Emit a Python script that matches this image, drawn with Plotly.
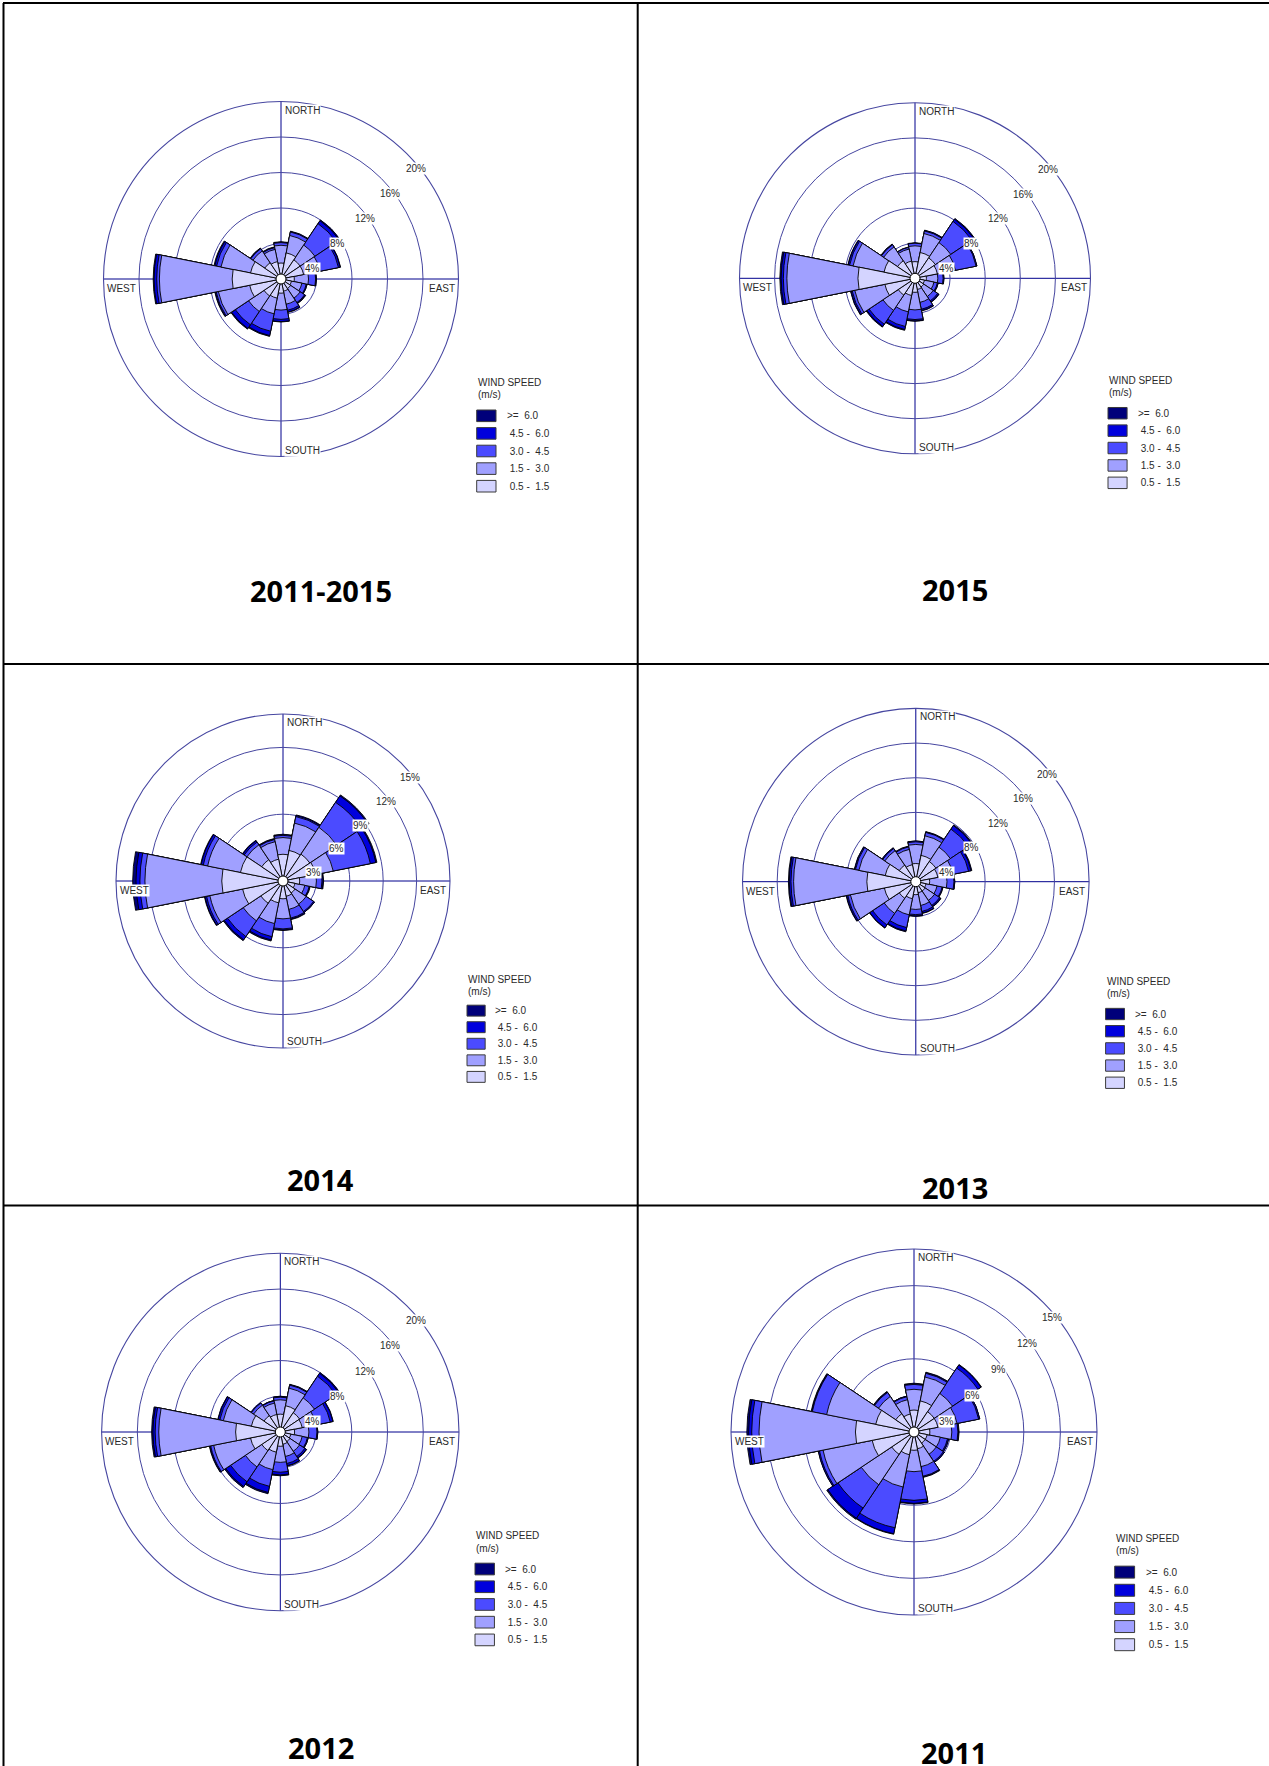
import plotly.graph_objects as go

W, H = 1269, 1766

# ---------------------------------------------------------------- data
DIRECTIONS = ["N", "NNE", "NE", "ENE", "E", "ESE", "SE", "SSE",
              "S", "SSW", "SW", "WSW", "W", "WNW", "NW", "NNW"]
BEARINGS = [0, 22.5, 45, 67.5, 90, 112.5, 135, 157.5,
            180, 202.5, 225, 247.5, 270, 292.5, 315, 337.5]

# speed classes, slowest first
SPEED_CLASSES = ["0.5 - 1.5", "1.5 - 3.0", "3.0 - 4.5", "4.5 - 6.0", ">= 6.0"]
LEGEND_LABELS = [">=  6.0", " 4.5 -  6.0", " 3.0 -  4.5", " 1.5 -  3.0", " 0.5 -  1.5"]
CLASS_COLORS = ["#D4D4FF", "#A0A0FF", "#4B4BFF", "#0000DD", "#00007A"]

# cumulative frequency (%) per direction: wind up to 1.5, 3.0, 4.5, 6.0 m/s, all
CUM_2011_2015 = [
    [1.8, 3.8, 4.1, 4.15, 4.2], [3.0, 5.0, 5.4, 5.45, 5.5], [2.6, 4.6, 7.5, 7.9, 8.0],
    [2.6, 4.5, 6.6, 6.8, 6.85], [1.5, 3.1, 3.9, 3.95, 4.0], [1.2, 2.4, 2.9, 3.0, 3.0],
    [1.3, 2.6, 3.2, 3.3, 3.35], [1.4, 2.9, 3.6, 3.8, 3.85], [1.6, 3.5, 4.55, 4.8, 4.85],
    [2.2, 4.0, 6.0, 6.5, 6.6], [2.3, 4.4, 6.2, 6.7, 6.8], [3.6, 7.2, 7.45, 7.55, 7.6],
    [5.5, 13.7, 14.0, 14.3, 14.4], [3.5, 6.9, 7.4, 7.6, 7.7], [2.2, 3.8, 4.1, 4.15, 4.2],
    [2.0, 3.4, 3.6, 3.65, 3.7],
]
CUM_2015 = [
    [1.9, 3.7, 4.0, 4.0, 4.05], [3.0, 5.2, 5.5, 5.55, 5.6], [2.8, 4.9, 7.8, 8.1, 8.2],
    [2.6, 4.7, 7.1, 7.2, 7.2], [1.3, 2.6, 3.2, 3.3, 3.3], [1.1, 2.2, 2.6, 2.7, 2.7],
    [1.2, 2.5, 3.1, 3.25, 3.3], [1.3, 2.8, 3.6, 3.75, 3.8], [1.6, 3.6, 4.7, 4.85, 4.9],
    [2.0, 3.9, 5.6, 5.95, 6.05], [2.3, 4.4, 6.3, 6.6, 6.7], [3.5, 7.0, 7.3, 7.45, 7.5],
    [6.5, 14.6, 15.0, 15.25, 15.4], [3.6, 7.2, 7.6, 7.75, 7.8], [2.4, 4.3, 4.6, 4.65, 4.7],
    [2.0, 3.4, 3.6, 3.6, 3.65],
]
CUM_2014 = [
    [2.4, 3.9, 4.1, 4.15, 4.2], [2.8, 5.3, 5.9, 6.0, 6.05], [2.9, 5.8, 8.5, 9.2, 9.3],
    [3.0, 4.6, 8.0, 8.5, 8.6], [1.5, 3.0, 3.5, 3.6, 3.65], [1.1, 2.0, 2.4, 2.45, 2.5],
    [1.3, 2.5, 3.3, 3.4, 3.4], [1.4, 2.6, 3.4, 3.5, 3.55], [1.6, 3.4, 4.3, 4.4, 4.45],
    [2.0, 3.9, 5.1, 5.4, 5.5], [2.4, 4.3, 6.0, 6.35, 6.45], [3.7, 6.7, 7.0, 7.15, 7.2],
    [5.5, 12.4, 12.85, 13.2, 13.5], [3.9, 6.9, 7.3, 7.5, 7.55], [2.3, 3.9, 4.2, 4.35, 4.4],
    [2.0, 3.6, 3.8, 3.85, 3.9],
]
CUM_2013 = [
    [2.1, 4.3, 4.6, 4.7, 4.7], [3.1, 5.4, 5.8, 5.85, 5.9], [2.8, 4.8, 7.3, 7.8, 7.9],
    [2.6, 4.4, 6.2, 6.5, 6.6], [1.6, 3.6, 4.4, 4.5, 4.5], [1.2, 2.5, 3.1, 3.2, 3.2],
    [1.3, 2.6, 3.3, 3.45, 3.5], [1.3, 2.8, 3.5, 3.7, 3.75], [1.5, 3.2, 3.8, 3.95, 4.0],
    [2.0, 3.9, 5.4, 5.8, 5.9], [2.3, 4.4, 6.0, 6.4, 6.45], [3.7, 7.7, 8.0, 8.15, 8.2],
    [5.65, 14.1, 14.4, 14.6, 14.7], [3.6, 6.7, 7.1, 7.2, 7.25], [2.3, 4.3, 4.6, 4.7, 4.7],
    [2.0, 3.8, 4.1, 4.15, 4.2],
]
CUM_2012 = [
    [2.0, 3.6, 3.9, 3.95, 4.0], [3.0, 5.0, 5.35, 5.4, 5.45], [2.6, 4.6, 7.5, 7.9, 8.0],
    [2.5, 4.1, 5.7, 6.0, 6.05], [1.6, 3.2, 4.1, 4.2, 4.2], [1.2, 2.5, 3.1, 3.2, 3.2],
    [1.3, 2.6, 3.3, 3.5, 3.55], [1.4, 2.8, 3.6, 3.85, 3.9], [1.6, 3.4, 4.5, 4.8, 4.9],
    [2.3, 4.3, 6.2, 6.9, 7.05], [2.5, 4.7, 6.7, 7.35, 7.5], [3.4, 7.6, 7.95, 8.05, 8.1],
    [5.0, 13.6, 14.0, 14.25, 14.4], [3.3, 6.5, 6.9, 7.1, 7.15], [2.2, 3.6, 3.9, 3.9, 3.95],
    [2.0, 3.3, 3.55, 3.6, 3.6],
]
CUM_2011 = [
    [1.8, 3.5, 3.9, 3.95, 4.0], [2.6, 4.6, 4.9, 4.95, 5.0], [2.0, 3.8, 6.3, 6.6, 6.65],
    [2.0, 3.6, 5.4, 5.5, 5.5], [1.3, 3.1, 3.6, 3.65, 3.7], [1.1, 2.2, 2.8, 2.9, 2.9],
    [1.1, 2.2, 2.9, 3.0, 3.0], [1.4, 2.9, 3.7, 3.75, 3.8], [1.5, 3.25, 5.6, 5.85, 5.9],
    [1.9, 4.6, 8.0, 8.5, 8.55], [2.2, 5.2, 7.5, 8.5, 8.6], [3.5, 7.6, 7.9, 8.0, 8.0],
    [4.8, 12.7, 13.3, 13.55, 13.7], [3.2, 7.3, 8.5, 8.55, 8.6], [1.8, 3.5, 3.9, 3.95, 4.0],
    [1.5, 2.7, 2.95, 3.0, 3.0],
]

RINGS_20 = [4, 8, 12, 16, 20]
RINGS_15 = [3, 6, 9, 12, 15]

PANEL_TITLES = ["2011-2015", "2015", "2014", "2013", "2012", "2011"]
PANEL_DATA = [CUM_2011_2015, CUM_2015, CUM_2014, CUM_2013, CUM_2012, CUM_2011]
PANEL_RINGS = [RINGS_20, RINGS_20, RINGS_15, RINGS_20, RINGS_20, RINGS_15]

# ---------------------------------------------------------------- layout (pixels)
# rose centre x, centre y, outer radius
ROSE_GEOM = [(281, 279, 177.5), (915, 278.3, 175.5), (283, 881, 167),
             (915.8, 881.7, 173.3), (280.3, 1432, 178.7), (914, 1432, 183)]
# legend title left x / centre y
LEGEND_POS = [(476.7, 382.7), (1108, 380.5), (467, 979.5),
              (1105.6, 981.7), (475, 1535.7), (1114.7, 1538)]
TITLE_POS = [(321, 591), (955, 589), (321, 1179), (955, 1187), (321, 1747.5), (954, 1752)]

CIRCLE_COLOR = "#4646A0"
AXIS_COLOR = "#00008C"
TEXT_COLOR = "#2A2A2A"
LABEL_FONT = "Liberation Sans, Arial, sans-serif"


def px(x, y):
    return x / W, 1 - y / H


fig = go.Figure()
annotations = []
shapes = []


def add_text(x, y, text, size=10, xanchor="left", bg=None, family=LABEL_FONT,
             color=TEXT_COLOR, weight="normal"):
    xp, yp = px(x, y)
    annotations.append(dict(
        x=xp, y=yp, xref="paper", yref="paper", text=text, showarrow=False,
        xanchor=xanchor, yanchor="middle", bgcolor=bg, borderpad=0,
        font=dict(family=family, size=size, color=color, weight=weight)))


for k, (cum, rings, title) in enumerate(zip(PANEL_DATA, PANEL_RINGS, PANEL_TITLES)):
    cx, cy, R = ROSE_GEOM[k]
    pid = "polar" if k == 0 else f"polar{k + 1}"
    rmax = rings[-1]

    # bars: widest (all speeds) first, slower classes overlaid on top
    for c in reversed(range(len(SPEED_CLASSES))):
        fig.add_trace(go.Barpolar(
            r=[row[c] for row in cum], theta=BEARINGS, width=22.5,
            name=SPEED_CLASSES[c], subplot=pid, showlegend=False,
            marker=dict(color=CLASS_COLORS[c], line=dict(color="#000000", width=0.9)),
        ))
    # calm centre
    fig.add_trace(go.Scatterpolar(
        r=[0], theta=[0], mode="markers", subplot=pid, showlegend=False,
        marker=dict(size=10, color="white", line=dict(color="#000000", width=1)),
        hoverinfo="skip"))

    x0, y1 = px(cx - R, cy - R)
    x1, y0 = px(cx + R, cy + R)
    fig.update_layout(**{pid: dict(
        domain=dict(x=[x0, x1], y=[y0, y1]),
        bgcolor="rgba(0,0,0,0)",
        barmode="overlay",
        radialaxis=dict(range=[0, rmax], tickvals=rings, showticklabels=False,
                        ticks="", showline=False, gridcolor=CIRCLE_COLOR, gridwidth=1.1),
        angularaxis=dict(rotation=90, direction="clockwise", tickvals=[0, 90, 180, 270],
                         showticklabels=False, ticks="", gridcolor=AXIS_COLOR, gridwidth=1.4,
                         showline=True, linecolor=CIRCLE_COLOR, linewidth=1.1),
    )})

    # compass words
    add_text(cx + 3, cy - R + 8.5, "NORTH", bg="white")
    add_text(cx + 3, cy + R - 6.5, "SOUTH", bg="white")
    add_text(cx - R + 2.5, cy + 9.5, "WEST", bg="white")
    add_text(cx + R - 3, cy + 9.5, "EAST", xanchor="right", bg="white")

    # ring labels along the north-east diagonal
    for v in rings:
        d = R * v / rmax * 0.7071
        add_text(cx + d - 2, cy - d + 15, f"{v}%", bg="white")

    # legend
    s = R / 177.5
    lx, ly = LEGEND_POS[k]
    add_text(lx, ly, "WIND SPEED")
    add_text(lx, ly + 12.3 * s, "(m/s)")
    for i, lab in enumerate(LEGEND_LABELS):
        by = ly + 33.1 * s + i * 17.6 * s
        col = CLASS_COLORS[len(CLASS_COLORS) - 1 - i]
        bx0, by0 = px(lx, by - 5.8 * s)
        bx1, by1 = px(lx + 19.3 * s, by + 5.8 * s)
        shapes.append(dict(type="rect", xref="paper", yref="paper",
                           x0=bx0, x1=bx1, y0=by1, y1=by0, fillcolor=col,
                           line=dict(color="#3A3A3A", width=1)))
        add_text(lx + 29 * s, by, lab)

    # panel year
    tx, ty = TITLE_POS[k]
    add_text(tx, ty, title, size=29, xanchor="center",
             family="Noto Sans, DejaVu Sans, sans-serif", color="#000000", weight="bold")

# table frame
def hline(y, xa, xb):
    (a, yp), (b, _) = px(xa, y), px(xb, y)
    shapes.append(dict(type="line", xref="paper", yref="paper", x0=a, x1=b, y0=yp, y1=yp,
                       line=dict(color="black", width=2)))


def vline(x, ya, yb):
    (xp, a), (_, b) = px(x, ya), px(x, yb)
    shapes.append(dict(type="line", xref="paper", yref="paper", x0=xp, x1=xp, y0=a, y1=b,
                       line=dict(color="black", width=2)))


hline(3, 3, W)
hline(664, 3, W)
hline(1205.6, 3, W)
vline(3.5, 3, H)
vline(637.7, 3, H)

fig.update_layout(
    width=W, height=H, margin=dict(l=0, r=0, t=0, b=0),
    paper_bgcolor="white", plot_bgcolor="white", showlegend=False,
    annotations=annotations, shapes=shapes,
)

fig.write_html("out.html")
